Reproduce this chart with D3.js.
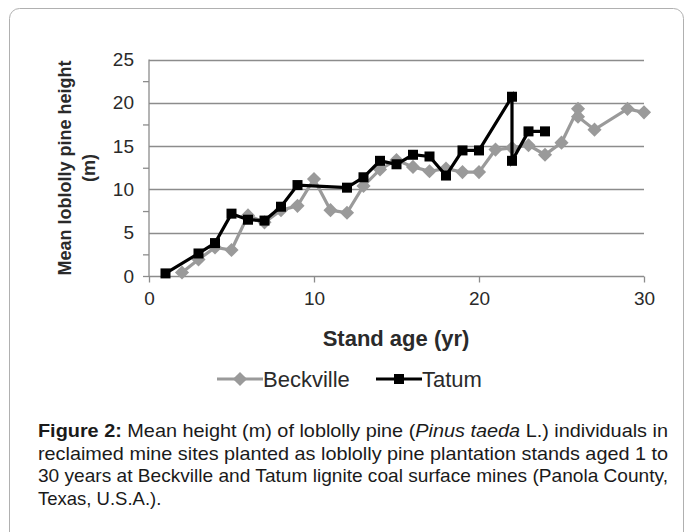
<!DOCTYPE html>
<html><head><meta charset="utf-8">
<script src="https://cdn.jsdelivr.net/npm/d3@7"></script>
<style>
html,body{margin:0;padding:0;background:#fff;}
svg{display:block;}
</style></head>
<body>
<script>
const beckAge = [2,3,4,5,6,7,8,9,10,11,12,13,14,15,16,17,18,19,20,21,22,23,24,25,26,26,27,29,30];
const beckHeight = [0.4,1.9,3.3,3.0,7.0,6.2,7.6,8.1,11.2,7.6,7.3,10.4,12.3,13.4,12.6,12.1,12.4,12.0,12.0,14.6,14.8,15.1,14.0,15.4,19.3,18.4,16.9,19.3,18.9];
const tatumAge = [1,3,4,5,6,7,8,9,12,13,14,15,16,17,18,19,20,22,22,23,24];
const tatumHeight = [0.3,2.6,3.8,7.2,6.5,6.4,8.0,10.5,10.2,11.4,13.3,12.9,14.0,13.8,11.6,14.5,14.5,20.7,13.3,16.7,16.7];
const xTicks = [0,10,20,30];
const yTicks = [0,5,10,15,20,25];
const yMinor = [2.5,7.5,12.5,17.5,22.5];
const seriesNames = ["Beckville","Tatum"];
// caption lines: list of [text, style] runs; flag = justified line
const captionLines = [
 {just:true, runs:[["Figure 2:","b"],[" Mean height (m) of loblolly pine (",""],["Pinus taeda","i"],[" L.) individuals in",""]]},
 {just:true, runs:[["reclaimed mine sites planted as loblolly pine plantation stands aged 1 to",""]]},
 {just:true, runs:[["30 years at Beckville and Tatum lignite coal surface mines (Panola County,",""]]},
 {just:false, runs:[["Texas, U.S.A.).",""]]}
];

const W=693,H=532;
const svg=d3.select("body").append("svg").attr("width",W).attr("height",H);
const font='"Liberation Sans", Arial, sans-serif';

// outer frame
svg.append("rect").attr("x",9.5).attr("y",8.5).attr("width",674).attr("height",600)
  .attr("rx",10).attr("fill","none").attr("stroke","#b0b0b0").attr("stroke-width",1);

const x=d3.scaleLinear().domain([0,30]).range([149,644]);
const y=d3.scaleLinear().domain([0,25]).range([276,59.5]);
const axisCol="#8c8c8c";

// gridlines
svg.append("g").selectAll("line").data(yTicks.filter(d=>d>0)).join("line")
  .attr("x1",x(0)).attr("x2",x(30)).attr("y1",d=>Math.round(y(d))+0.5).attr("y2",d=>Math.round(y(d))+0.5)
  .attr("stroke",axisCol).attr("stroke-width",1.3);

// y axis
const yAxis=svg.append("g").attr("transform",`translate(${x(0)},0)`)
  .call(d3.axisLeft(y).tickValues(yTicks.concat(yMinor)).tickSize(6).tickFormat(d=>yTicks.includes(d)?d:""));
yAxis.select(".domain").attr("stroke",axisCol).attr("stroke-width",1.3).attr("d",`M0,${y(25)}V${y(0)}`);
yAxis.selectAll(".tick line").attr("stroke",axisCol).attr("stroke-width",1.3).attr("x2",d=>yTicks.includes(d)&&d>0?0:-6);
yAxis.selectAll(".tick text").attr("font-family",font).attr("font-size",19).attr("fill","#2a2a2a").attr("x",-15);

// x axis
const xAxis=svg.append("g").attr("transform",`translate(0,${Math.round(y(0))+0.5})`)
  .call(d3.axisBottom(x).tickValues(xTicks).tickSize(6).tickFormat(d3.format("d")));
xAxis.select(".domain").attr("stroke",axisCol).attr("stroke-width",1.3).attr("d",`M${x(0)},0H${x(30)}`);
xAxis.selectAll(".tick line").attr("stroke",axisCol).attr("stroke-width",1.3);
xAxis.selectAll(".tick text").attr("font-family",font).attr("font-size",19).attr("fill","#2a2a2a").attr("y",15);

// axis titles
svg.append("text").attr("transform","translate(71,168) rotate(-90)").attr("text-anchor","middle")
  .attr("font-family",font).attr("font-weight","bold").attr("font-size",18).attr("fill","#2a2a2a")
  .text("Mean loblolly pine height");
svg.append("text").attr("transform","translate(95,168) rotate(-90)").attr("text-anchor","middle")
  .attr("font-family",font).attr("font-weight","bold").attr("font-size",18).attr("fill","#2a2a2a")
  .text("(m)");
svg.append("text").attr("x",396).attr("y",346).attr("text-anchor","middle")
  .attr("font-family",font).attr("font-weight","bold").attr("font-size",22).attr("fill","#2a2a2a")
  .text("Stand age (yr)");

const gray="#9a9a9a", black="#000";
const line=d3.line().x(d=>x(d[0])).y(d=>y(d[1]));
const beck=d3.zip(beckAge,beckHeight), tat=d3.zip(tatumAge,tatumHeight);

svg.append("path").datum(beck).attr("d",line).attr("fill","none").attr("stroke",gray).attr("stroke-width",3.2);
svg.append("g").selectAll("rect").data(beck).join("rect")
  .attr("x",-5).attr("y",-5).attr("width",10).attr("height",10)
  .attr("transform",d=>`translate(${x(d[0])},${y(d[1])}) rotate(45)`).attr("fill",gray);

svg.append("path").datum(tat).attr("d",line).attr("fill","none").attr("stroke",black).attr("stroke-width",3.2);
svg.append("g").selectAll("rect").data(tat).join("rect")
  .attr("x",d=>x(d[0])-5).attr("y",d=>y(d[1])-5).attr("width",10).attr("height",10).attr("fill",black);

// legend
const lg=svg.append("g");
lg.append("line").attr("x1",217).attr("x2",263).attr("y1",379).attr("y2",379).attr("stroke",gray).attr("stroke-width",3.2);
lg.append("rect").attr("x",-5).attr("y",-5).attr("width",10).attr("height",10).attr("transform","translate(240,379) rotate(45)").attr("fill",gray);
lg.append("text").attr("x",263).attr("y",387).attr("font-family",font).attr("font-size",22).attr("fill","#2a2a2a").text(seriesNames[0]);
lg.append("line").attr("x1",376).attr("x2",422).attr("y1",379).attr("y2",379).attr("stroke",black).attr("stroke-width",3.2);
lg.append("rect").attr("x",394).attr("y",374).attr("width",10).attr("height",10).attr("fill",black);
lg.append("text").attr("x",422).attr("y",387).attr("font-family",font).attr("font-size",22).attr("fill","#2a2a2a").text(seriesNames[1]);

// caption
const capG=svg.append("g").attr("font-family",font).attr("font-size",18.5).attr("fill","#1a1a1a");
captionLines.forEach((ln,i)=>{
  const t=capG.append("text").attr("x",38).attr("y",437+i*22.6);
  if(ln.just) t.attr("textLength",630).attr("lengthAdjust","spacingAndGlyphs");
  ln.runs.forEach(r=>{
    const ts=t.append("tspan").text(r[0]);
    if(r[1]==="b") ts.attr("font-weight","bold");
    if(r[1]==="i") ts.attr("font-style","italic");
  });
  t.attr("xml:space","preserve").style("white-space","pre");
});
</script></body></html>
